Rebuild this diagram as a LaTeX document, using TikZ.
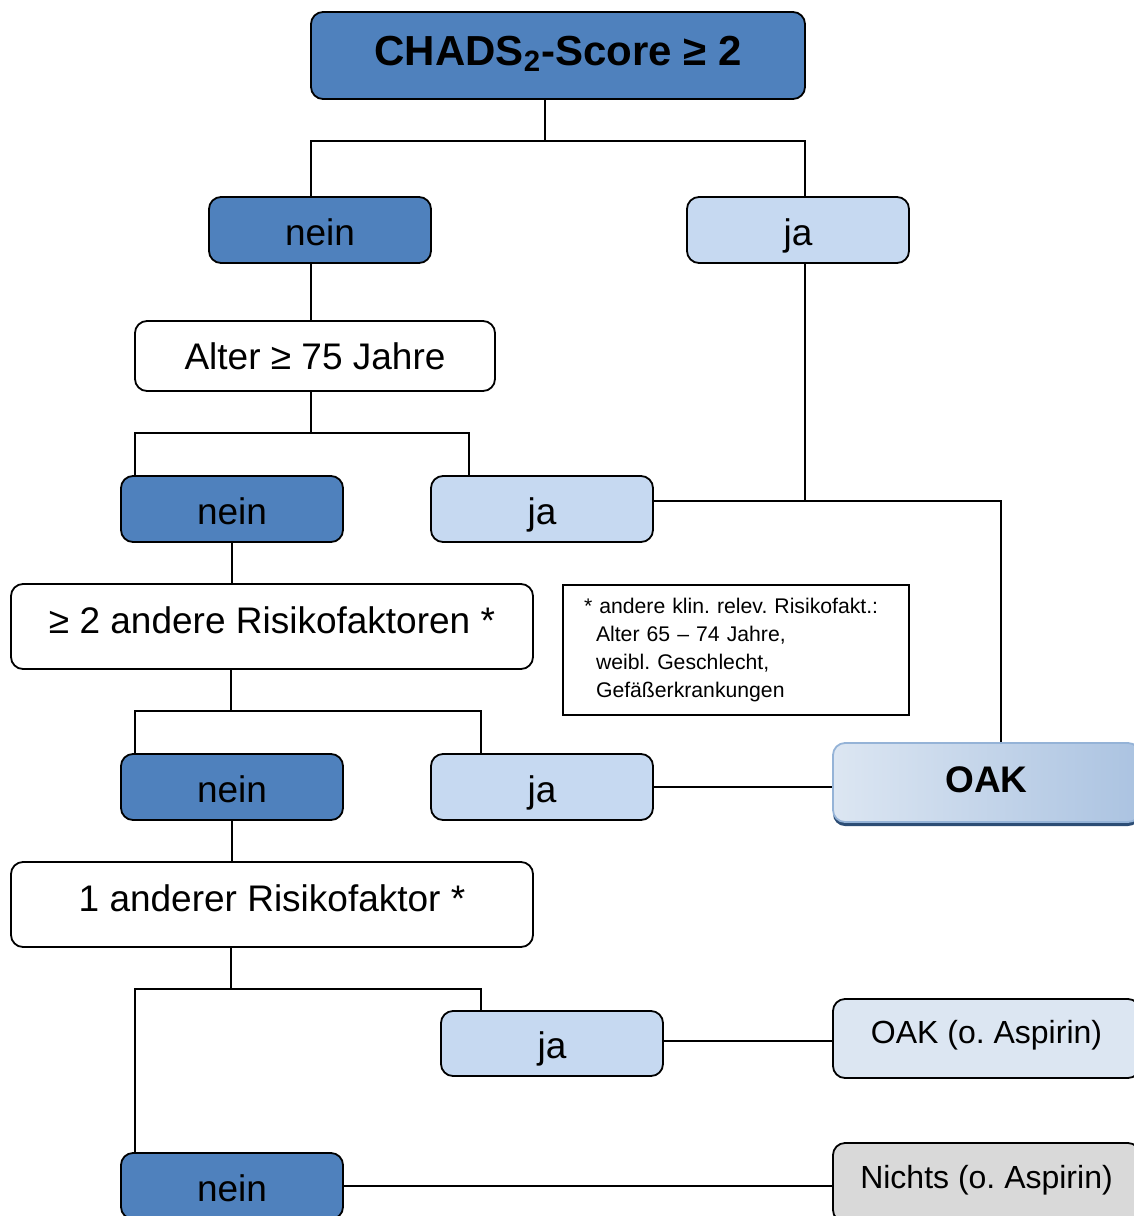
\documentclass[tikz,border=0pt]{standalone}
\usepackage{fontspec}
\setmainfont{Liberation Sans}
\usetikzlibrary{calc}
\usetikzlibrary{shadows}

\definecolor{dunkelblau}{HTML}{4F81BD}
\definecolor{hellblau}{HTML}{C6D9F1}
\definecolor{blassblau}{HTML}{DCE6F2}
\definecolor{hellgrau}{HTML}{D9D9D9}
\definecolor{oakrand}{HTML}{95B3D7}
\definecolor{oakdunkel}{HTML}{ABC3E1}
\definecolor{schatten}{HTML}{2C4D75}

\tikzset{
  kasten/.style={draw, rounded corners=6pt, line width=0.9pt, align=center,
    font=\fontsize{18.5}{22}\selectfont},
  nein/.style={kasten, fill=dunkelblau, minimum width=111pt, minimum height=33pt,
    text height=15pt, text depth=0pt},
  ja/.style={kasten, fill=hellblau, minimum width=111pt, minimum height=33pt,
    text height=15pt, text depth=0pt},
  frage/.style={kasten, fill=white},
  ende/.style={kasten, minimum width=153.5pt, minimum height=39.5pt,
    font=\fontsize{16}{19}\selectfont},
  linie/.style={line width=0.8pt}
}

\begin{document}
\frenchspacing
\begin{tikzpicture}[x=0.5pt, y=-0.5pt]
\useasboundingbox (0,0) rectangle (1134,1216);
\clip (0,0) rectangle (1134,1216);

% 起点
\node [kasten, fill=dunkelblau, minimum width=247pt, minimum height=43.5pt,
  text depth=5pt, font=\bfseries\fontsize{21}{24}\selectfont]
  (top) at (558,55.5) {CHADS\textsubscript{2}-Score ≥ 2};

% 第一层
\node [nein] (nein1) at (320,230) {nein};
\node [ja] (ja1) at (798,230) {ja};
\node [frage, minimum width=180pt, minimum height=35pt] (alter) at (315,356) {Alter ≥ 75 Jahre};

% 第二层
\node [nein] (nein2) at (232,509) {nein};
\node [ja] (ja2) at (542,509) {ja};
\node [frage, minimum width=261pt, minimum height=42.5pt, text depth=6pt]
  (risk2) at (272,626.5) {≥ 2 andere Risikofaktoren *};

% 注释
\node [draw, line width=0.7pt, minimum width=173pt, minimum height=65pt,
  inner xsep=10.5pt, align=left, text width=152pt,
  font=\fontsize{10.6}{14}\selectfont]
  (note) at (736,650) {* andere klin. relev. Risikofakt.:\\
  \hspace*{6pt}Alter 65 – 74 Jahre,\\
  \hspace*{6pt}weibl. Geschlecht,\\
  \hspace*{6pt}Gefäßerkrankungen};

% 第三层
\node [nein] (nein3) at (232,787) {nein};
\node [ja] (ja3) at (542,787) {ja};
\node [kasten, draw=oakrand, left color=blassblau, right color=oakdunkel,
  minimum width=153.5pt, minimum height=39.5pt, text depth=3pt,
  font=\bfseries\fontsize{18.5}{22}\selectfont,
  drop shadow={shadow xshift=0pt, shadow yshift=-2pt, fill=schatten, opacity=1}]
  (oak) at (986.5,782.5) {OAK};
\node [frage, minimum width=261pt, minimum height=42.5pt, text depth=6pt]
  (risk1) at (272,904.5) {1 anderer Risikofaktor *};

% 第四层
\node [ja, minimum height=32.5pt] (ja4) at (552,1043.5) {ja};
\node [ende, fill=blassblau, text depth=6.5pt] (oako) at (986.5,1038.5) {OAK (o. Aspirin)};
\node [nein] (nein4) at (232,1186) {nein};
\node [ende, fill=hellgrau, text depth=6pt] (nichts) at (986.5,1182.5) {Nichts (o. Aspirin)};

% 连线
\coordinate (b1) at (545,141);
\coordinate (b2) at (311,433);
\coordinate (b3) at (231,711);
\coordinate (b4) at (231,989);
\coordinate (j1) at (805,501);

\draw [linie] ([xshift=-6.5pt]top.south) -- (b1);
\draw [linie] ([xshift=-4.5pt]nein1.north) |- (b1) -| ([xshift=3.5pt]ja1.north);
\draw [linie] ([xshift=-4.5pt]nein1.south) -- ([xshift=-2pt]alter.north);

\draw [linie] ([xshift=-2pt]alter.south) -- (b2);
\draw [linie] ([xshift=-48.5pt]nein2.north) |- (b2) -| ([xshift=-36.5pt]ja2.north);
\draw [linie] ([xshift=3.5pt]ja1.south) -- (j1);
\draw [linie] ([yshift=4pt]ja2.east) -- (j1) -| ([xshift=7.25pt]oak.north);
\draw [linie] (nein2.south) -- (nein2.south |- risk2.north);

\draw [linie] (risk2.south -| b3) -- (b3);
\draw [linie] ([xshift=-48.5pt]nein3.north) |- (b3) -| ([xshift=-30.5pt]ja3.north);
\draw [linie] (ja3.east) -- (ja3.east -| oak.west);
\draw [linie] (nein3.south) -- (nein3.south |- risk1.north);

\draw [linie] (risk1.south -| b4) -- (b4);
\draw [linie] ([xshift=-48.5pt]nein4.north) |- (b4) -| ([xshift=-35.5pt]ja4.north);
\draw [linie] ([yshift=1.25pt]ja4.east) -- ([yshift=1.25pt]ja4.east -| oako.west);
\draw [linie] (nein4.east) -- (nein4.east -| nichts.west);

\end{tikzpicture}
\end{document}
